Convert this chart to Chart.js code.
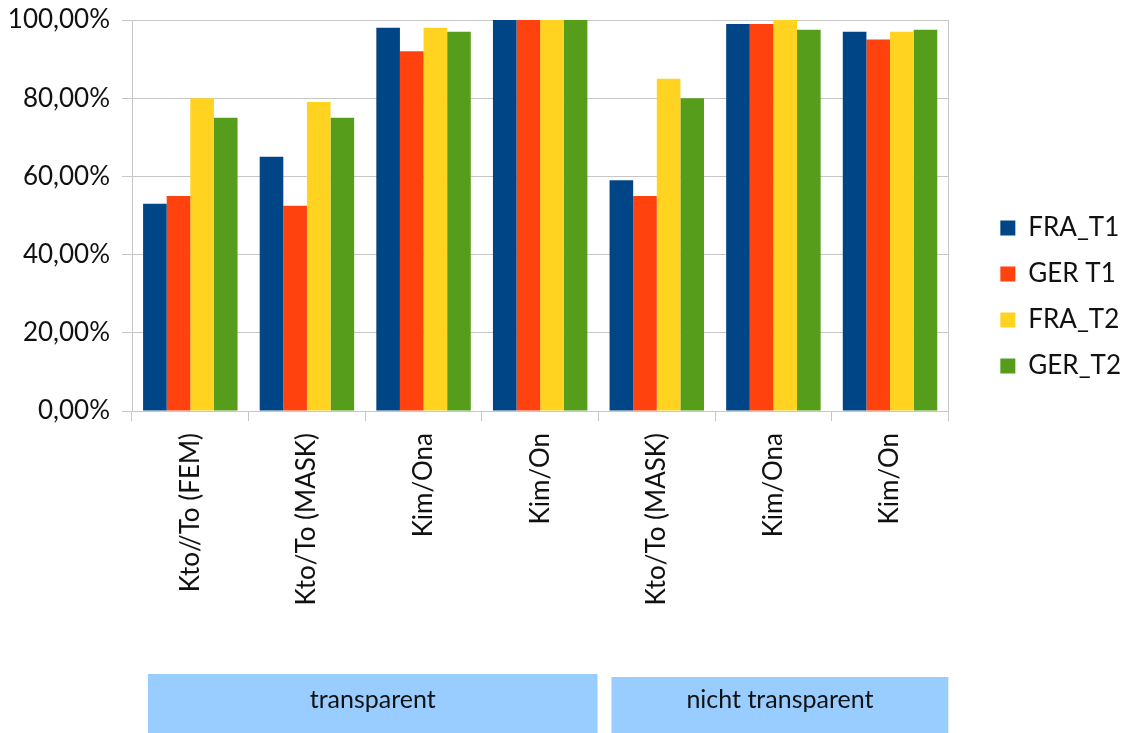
<!DOCTYPE html>
<html lang="de">
<head>
  <meta charset="UTF-8">
  <title>Ergebnisse T1 / T2</title>
  <script src="https://cdn.jsdelivr.net/npm/chart.js"></script>
  <style>
    html, body {
      margin: 0;
      padding: 0;
      background: #ffffff;
    }
    #wrap {
      width: 1131px;
      height: 733px;
      position: relative;
    }
  </style>
</head>
<body>
<div id="wrap">
  <canvas id="grafik"></canvas>
</div>

<script>
const kategorien = ['Kto//To (FEM)', 'Kto/To (MASK)', 'Kim/Ona', 'Kim/On', 'Kto/To (MASK)', 'Kim/Ona', 'Kim/On'];
const fraT1 = [53, 65, 98, 100, 59, 99, 97];
const gerT1 = [55, 52.5, 92, 100, 55, 99, 95];
const fraT2 = [80, 79, 98, 100, 85, 100, 97];
const gerT2 = [75, 75, 97, 100, 80, 97.5, 97.5];
const yTicks = [0, 20, 40, 60, 80, 100];
const gruppen = ['transparent', 'nicht transparent'];
const gruppenGroesse = [4, 3];

const schrift = 'Lato, "Noto Sans", sans-serif';
const gitter = '#c6c6c6';

// Blaue Kästen unter den Achsenbeschriftungen
const gruppenBalken = {
  id: 'gruppenBalken',
  afterDraw(chart) {
    const ctx = chart.ctx;
    const x = chart.scales.x;
    const breite = (x.getPixelForValue(1) - x.getPixelForValue(0));
    const einzug = [16, 13];
    let start = 0;
    ctx.save();
    gruppen.forEach((name, i) => {
      const ende = start + gruppenGroesse[i] - 1;
      const links = x.getPixelForValue(start) - breite / 2 + einzug[i];
      const rechts = x.getPixelForValue(ende) + breite / 2 - (i === 0 ? 1 : 0);
      const oben = i === 0 ? 674 : 677;
      ctx.fillStyle = '#99ccff';
      ctx.fillRect(links, oben, rechts - links, chart.height - oben);
      ctx.fillStyle = '#111111';
      ctx.font = '25px ' + schrift;
      ctx.textAlign = 'center';
      ctx.textBaseline = 'alphabetic';
      ctx.fillText(name, (links + rechts) / 2, 708);
      start = ende + 1;
    });
    ctx.restore();
  }
};

new Chart(document.getElementById('grafik'), {
  type: 'bar',
  data: {
    labels: kategorien,
    datasets: [
      { label: 'FRA_T1', data: fraT1, backgroundColor: '#004586' },
      { label: 'GER T1', data: gerT1, backgroundColor: '#ff420e' },
      { label: 'FRA_T2', data: fraT2, backgroundColor: '#ffd320' },
      { label: 'GER_T2', data: gerT2, backgroundColor: '#579d1c' }
    ]
  },
  options: {
    responsive: true,
    maintainAspectRatio: false,
    animation: false,
    datasets: {
      bar: { categoryPercentage: 0.81, barPercentage: 1.0 }
    },
    layout: { padding: { top: 20, left: 0, right: 0, bottom: 0 } },
    plugins: {
      legend: {
        position: 'right',
        align: 'start',
        // leerer Titel als Abstand nach oben
        title: {
          display: true,
          text: ' ',
          padding: { top: 0, bottom: 163 },
          font: { size: 10 }
        },
        labels: {
          boxWidth: 15,
          boxHeight: 15,
          padding: 20,
          color: '#111111',
          font: { family: schrift, size: 26 }
        }
      },
      tooltip: { enabled: false }
    },
    scales: {
      x: {
        offset: true,
        grid: {
          offset: true,
          drawOnChartArea: false,
          drawTicks: true,
          tickLength: 10,
          color: gitter
        },
        border: { display: true, color: gitter },
        ticks: {
          minRotation: 90,
          maxRotation: 90,
          padding: 12,
          color: '#111111',
          font: { family: schrift, size: 26 }
        },
        afterFit(scale) {
          scale.height = 322;
          scale.paddingTop = 0;
          scale.paddingBottom = 0;
        }
      },
      y: {
        min: 0,
        max: 100,
        afterBuildTicks(scale) { scale.ticks = yTicks.map(v => ({ value: v })); },
        grid: { color: gitter, tickLength: 10 },
        border: { display: true, color: gitter },
        ticks: {
          padding: 12,
          color: '#111111',
          font: { family: schrift, size: 26 },
          callback: v => v.toFixed(2).replace('.', ',') + '%'
        },
        afterFit(scale) {
          scale.width = 132;
          scale.paddingTop = 0;
          scale.paddingBottom = 0;
        }
      },
      rechts: {
        position: 'right',
        min: 0,
        max: 100,
        grid: { drawOnChartArea: false, drawTicks: false },
        border: { display: true, color: gitter },
        ticks: { display: false },
        afterFit(scale) {
          scale.width = 32;
          scale.paddingTop = 0;
          scale.paddingBottom = 0;
        }
      }
    }
  },
  plugins: [gruppenBalken]
});
</script>
</body>
</html>
